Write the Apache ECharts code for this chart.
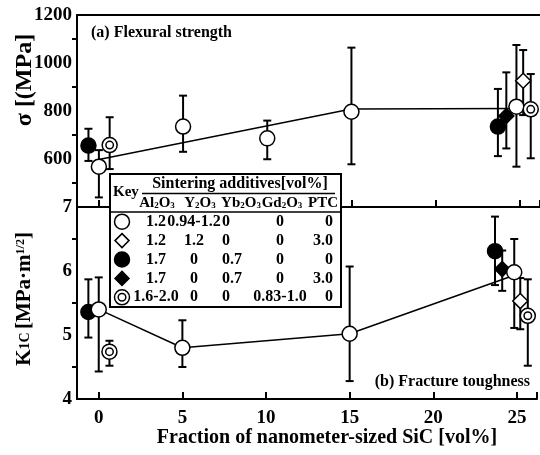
<!DOCTYPE html>
<html>
<head>
<meta charset="utf-8">
<script src="https://cdn.jsdelivr.net/npm/echarts@6/dist/echarts.min.js"></script>
<style>html,body{margin:0;padding:0;background:#fff}#c{width:540px;height:455px}</style>
</head>
<body>
<div id="c"></div>
<script>
// ---------- data ----------
// Flexural strength panel (sigma, MPa): x, value, lower, upper
const sOpenCircleX = [0, 5, 10, 15, 24.8];
const sOpenCircle = [568, 735, 686, 797, 818];
const sOpenCircleLo = [440, 630, 599, 578, 568];
const sOpenCircleHi = [637, 864, 760, 1064, 1075];

const sOpenDiamondX = [25.2];
const sOpenDiamond = [926];
const sOpenDiamondLo = [783];
const sOpenDiamondHi = [1054];

const sFilledCircleX = [-0.62, 23.7];
const sFilledCircle = [656, 735];
const sFilledCircleLo = [592, 612];
const sFilledCircleHi = [726, 892];

const sFilledDiamondX = [24.2];
const sFilledDiamond = [779];
const sFilledDiamondLo = [644];
const sFilledDiamondHi = [961];

const sDoubleCircleX = [0.64, 25.65];
const sDoubleCircle = [658, 807];
const sDoubleCircleLo = [558, 603];
const sDoubleCircleHi = [774, 954];

const sTrendX = [0, 15, 24.8];
const sTrend = [598, 808, 810];

// Fracture toughness panel (K1C, MPa m^1/2)
const kOpenCircleX = [0, 5, 15, 24.84];
const kOpenCircle = [5.40, 4.80, 5.02, 5.98];
const kOpenCircleLo = [4.43, 4.50, 4.28, 5.11];
const kOpenCircleHi = [5.90, 5.23, 6.07, 6.50];

const kOpenDiamondX = [25.2];
const kOpenDiamond = [5.53];
const kOpenDiamondLo = [5.09];
const kOpenDiamondHi = [5.89];

const kFilledCircleX = [-0.62, 23.69];
const kFilledCircle = [5.36, 6.31];
const kFilledCircleLo = [4.96, 5.78];
const kFilledCircleHi = [5.87, 6.85];

const kFilledDiamondX = [24.12];
const kFilledDiamond = [6.03];
const kFilledDiamondLo = [5.69];
const kFilledDiamondHi = [6.32];

const kDoubleCircleX = [0.64, 25.65];
const kDoubleCircle = [4.74, 5.30];
const kDoubleCircleLo = [4.52, 4.52];
const kDoubleCircleHi = [4.91, 5.87];

const kTrendX = [0, 5, 15, 24.8];
const kTrend = [5.40, 4.80, 5.02, 5.93];

// tick labels
const xTickLabels = [0, 5, 10, 15, 20, 25];
const sTickLabels = [600, 800, 1000, 1200];
const kTickLabels = [4, 5, 6, 7];

// key table
const keyAl2O3 = ['1.2', '1.2', '1.7', '1.7', '1.6-2.0'];
const keyY2O3 = ['0.94-1.2', '1.2', '0', '0', '0'];
const keyYb2O3 = ['0', '0', '0.7', '0.7', '0'];
const keyGd2O3 = ['0', '0', '0', '0', '0.83-1.0'];
const keyPTC = ['0', '3.0', '0', '3.0', '0'];
const keySymbols = ['openCircle', 'openDiamond', 'filledCircle', 'filledDiamond', 'doubleCircle'];

// ---------- helpers ----------
const FONT = '"Liberation Serif", "Times New Roman", serif';
const zip = (xs, ys) => xs.map((x, i) => [x, ys[i]]);
const zip3 = (xs, lo, hi) => xs.map((x, i) => [x, lo[i], hi[i]]);

function errSeries(xs, lo, hi, gi) {
  return {
    type: 'custom', xAxisIndex: gi, yAxisIndex: gi, z: 3, silent: true,
    data: zip3(xs, lo, hi),
    renderItem: function (params, api) {
      const x = api.value(0);
      const a = api.coord([x, api.value(2)]);
      const b = api.coord([x, api.value(1)]);
      const w = 4;
      const st = { stroke: '#000', lineWidth: 2 };
      return {
        type: 'group', children: [
          { type: 'line', shape: { x1: a[0], y1: a[1], x2: b[0], y2: b[1] }, style: st },
          { type: 'line', shape: { x1: a[0] - w, y1: a[1], x2: a[0] + w, y2: a[1] }, style: st },
          { type: 'line', shape: { x1: b[0] - w, y1: b[1], x2: b[0] + w, y2: b[1] }, style: st }
        ]
      };
    }
  };
}
function sc(xs, ys, gi, symbol, size, fill, z) {
  return {
    type: 'scatter', xAxisIndex: gi, yAxisIndex: gi, z: z || 5, silent: true,
    symbol: symbol, symbolSize: size, data: zip(xs, ys),
    itemStyle: { color: fill, borderColor: '#000', borderWidth: 1.5, opacity: 1 }
  };
}
function groupSeries(gi, oc, od, fc, fd, dc, trend) {
  return [
    { type: 'line', xAxisIndex: gi, yAxisIndex: gi, z: 2, silent: true, symbol: 'none',
      data: zip(trend[0], trend[1]), lineStyle: { color: '#000', width: 1.5 } },
    errSeries(oc[0], oc[2], oc[3], gi),
    errSeries(od[0], od[2], od[3], gi),
    errSeries(fc[0], fc[2], fc[3], gi),
    errSeries(fd[0], fd[2], fd[3], gi),
    errSeries(dc[0], dc[2], dc[3], gi),
    sc(fc[0], fc[1], gi, 'circle', 15, '#000'),
    sc(fd[0], fd[1], gi, 'diamond', 15, '#000'),
    sc(oc[0], oc[1], gi, 'circle', 15, '#fff', 6),
    sc(od[0], od[1], gi, 'diamond', 15, '#fff', 6),
    sc(dc[0], dc[1], gi, 'circle', 15, '#fff', 6),
    sc(dc[0], dc[1], gi, 'circle', 7.5, '#fff', 7)
  ];
}
const isTick = (v, arr) => arr.some(t => Math.abs(t - v) < 1e-6);

const axisLine = { show: true, onZero: false, lineStyle: { color: '#000', width: 2 } };
const labelFont = { fontFamily: FONT, fontWeight: 'bold', fontSize: 19, color: '#000' };

function xAxis(gi, showLabels) {
  return {
    type: 'value', gridIndex: gi, min: -1.3, max: 26.2, splitNumber: 5,
    axisLine: axisLine, splitLine: { show: false },
    axisTick: { show: true, inside: true, length: 7, lineStyle: { color: '#000', width: 2 } },
    axisLabel: Object.assign({ show: showLabels, margin: 10,
      formatter: v => isTick(v, xTickLabels) ? String(Math.round(v)) : '' }, labelFont)
  };
}
function yAxis(gi, min, max, interval, labels) {
  return {
    type: 'value', gridIndex: gi, min: min, max: max, interval: interval,
    axisLine: axisLine, splitLine: { show: false },
    axisTick: { show: false },
    minorTick: { show: true, splitNumber: 2, length: 5, lineStyle: { color: '#000', width: 2 } },
    minorSplitLine: { show: false },
    axisLabel: Object.assign({ margin: 5, showMinLabel: true, showMaxLabel: true,
      formatter: v => isTick(v, labels) ? String(v) : '' }, labelFont)
  };
}

// ---------- key table graphic ----------
const KX = 110, KY = 174, KW = 231, KH = 133;
const rowY0 = 221.7, rowStep = 18.9, symX = 122;
const tf = (sz) => ({ fontFamily: FONT, fontWeight: 'bold', fontSize: sz, fill: '#000' });
const keyG = [];
keyG.push({ type: 'rect', shape: { x: KX, y: KY, width: KW, height: KH },
  style: { fill: '#fff', stroke: '#000', lineWidth: 2 }, z: 100 });
keyG.push({ type: 'text', x: 113, y: 192, z: 101,
  style: Object.assign({ text: 'Key', textAlign: 'left', textVerticalAlign: 'middle' }, tf(15)) });
keyG.push({ type: 'text', x: 240, y: 184, z: 101,
  style: Object.assign({ text: 'Sintering additives[vol%]', textAlign: 'center', textVerticalAlign: 'middle' }, tf(16)) });
keyG.push({ type: 'line', shape: { x1: 142, y1: 193.5, x2: 335, y2: 193.5 }, style: { stroke: '#000', lineWidth: 1.5 }, z: 101 });
keyG.push({ type: 'line', shape: { x1: KX, y1: 212, x2: KX + KW, y2: 212 }, style: { stroke: '#000', lineWidth: 1.5 }, z: 101 });
const headers = [
  { x: 157, t: '{a|Al}{s|2}{a|O}{s|3}' },
  { x: 200, t: '{a|Y}{s|2}{a|O}{s|3}' },
  { x: 241, t: '{a|Yb}{s|2}{a|O}{s|3}' },
  { x: 282, t: '{a|Gd}{s|2}{a|O}{s|3}' },
  { x: 323, t: '{a|PTC}' }
];
headers.forEach(h => keyG.push({ type: 'text', x: h.x, y: 203, z: 101,
  style: { text: h.t, textAlign: 'center', textVerticalAlign: 'middle',
    rich: { a: tf(15), s: Object.assign({ verticalAlign: 'bottom' }, tf(9)) } } }));
const cols = [
  { vals: keyAl2O3, x: 156, align: 'center' },
  { vals: keyY2O3, x: 194, align: 'center' },
  { vals: keyYb2O3, x: 222, align: 'left' },
  { vals: keyGd2O3, x: 280, align: 'center' },
  { vals: keyPTC, x: 333, align: 'right' }
];
cols.forEach(c => c.vals.forEach((v, i) => keyG.push({ type: 'text', x: c.x, y: rowY0 + i * rowStep, z: 101,
  style: Object.assign({ text: v, textAlign: c.align, textVerticalAlign: 'middle' }, tf(16)) })));
keySymbols.forEach((s, i) => {
  const cy = rowY0 + i * rowStep;
  const st = { stroke: '#000', lineWidth: 1.5, fill: s.indexOf('filled') === 0 ? '#000' : '#fff' };
  if (s.indexOf('Circle') > 0) {
    keyG.push({ type: 'circle', shape: { cx: symX, cy: cy, r: 7.5 }, style: st, z: 101 });
    if (s === 'doubleCircle') keyG.push({ type: 'circle', shape: { cx: symX, cy: cy, r: 3.8 }, style: st, z: 102 });
  } else {
    keyG.push({ type: 'polygon', shape: { points: [[symX, cy - 7], [symX + 7, cy], [symX, cy + 7], [symX - 7, cy]] }, style: st, z: 101 });
  }
});

// ---------- titles ----------
const titleG = [
  { type: 'text', x: 91, y: 33, z: 50, style: Object.assign({ text: '(a) Flexural strength', textAlign: 'left', textVerticalAlign: 'middle' }, tf(16)) },
  { type: 'text', x: 530, y: 382, z: 50, style: Object.assign({ text: '(b) Fracture toughness', textAlign: 'right', textVerticalAlign: 'middle' }, tf(16)) },
  { type: 'text', x: 327, y: 438, z: 50, style: Object.assign({ text: 'Fraction of nanometer-sized SiC [vol%]', textAlign: 'center', textVerticalAlign: 'middle' }, tf(20)) },
  { type: 'text', x: 25, y: 80, rotation: Math.PI / 2, z: 50, style: Object.assign({ text: 'σ [(MPa]', textAlign: 'center', textVerticalAlign: 'middle' }, tf(24)) },
  { type: 'text', x: 25, y: 299, rotation: Math.PI / 2, z: 50, style: { text: '{k|K}{s|1C} {k|[MPa·m}{p|1/2}{k|]}', textAlign: 'center', textVerticalAlign: 'middle',
      rich: { k: tf(21), s: tf(14), p: Object.assign({ verticalAlign: 'top' }, tf(12)) } } }
];

const option = {
  animation: false,
  backgroundColor: '#fff',
  grid: [
    { left: 77, top: 15, right: 0, height: 192 },
    { left: 77, top: 207, right: 0, height: 192 }
  ],
  xAxis: [
    xAxis(0, false),
    xAxis(1, true),
    { type: 'value', gridIndex: 0, position: 'top', min: -1.3, max: 26.2, axisLine: axisLine,
      axisTick: { show: false }, axisLabel: { show: false }, splitLine: { show: false } }
  ],
  yAxis: [
    yAxis(0, 400, 1200, 200, sTickLabels),
    yAxis(1, 4, 7, 1, kTickLabels)
  ],
  series: [].concat(
    groupSeries(0,
      [sOpenCircleX, sOpenCircle, sOpenCircleLo, sOpenCircleHi],
      [sOpenDiamondX, sOpenDiamond, sOpenDiamondLo, sOpenDiamondHi],
      [sFilledCircleX, sFilledCircle, sFilledCircleLo, sFilledCircleHi],
      [sFilledDiamondX, sFilledDiamond, sFilledDiamondLo, sFilledDiamondHi],
      [sDoubleCircleX, sDoubleCircle, sDoubleCircleLo, sDoubleCircleHi],
      [sTrendX, sTrend]),
    groupSeries(1,
      [kOpenCircleX, kOpenCircle, kOpenCircleLo, kOpenCircleHi],
      [kOpenDiamondX, kOpenDiamond, kOpenDiamondLo, kOpenDiamondHi],
      [kFilledCircleX, kFilledCircle, kFilledCircleLo, kFilledCircleHi],
      [kFilledDiamondX, kFilledDiamond, kFilledDiamondLo, kFilledDiamondHi],
      [kDoubleCircleX, kDoubleCircle, kDoubleCircleLo, kDoubleCircleHi],
      [kTrendX, kTrend])
  ),
  graphic: [].concat(titleG, keyG)
};
const chart = echarts.init(document.getElementById('c'), null, { renderer: 'canvas' });
chart.setOption(option);
</script>
</body>
</html>
